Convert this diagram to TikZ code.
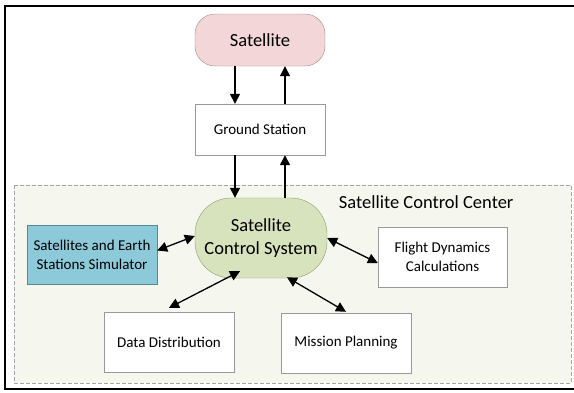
\documentclass[tikz,border=0pt]{standalone}
\usepackage{fontspec}
\setmainfont{Carlito}
\usepackage{tikz}
\usetikzlibrary{arrows.meta}

\definecolor{satpink}{RGB}{242,214,216}
\definecolor{satedge}{RGB}{160,140,142}
\definecolor{scsgreen}{RGB}{215,227,189}
\definecolor{scsedge}{RGB}{140,155,110}
\definecolor{simblue}{RGB}{140,202,218}
\definecolor{simedge}{RGB}{90,135,150}
\definecolor{centerbg}{RGB}{245,247,238}

\begin{document}
\begin{tikzpicture}[x=1pt, y=-1pt,
   whitebox/.style={draw=gray!80, fill=white, minimum width=130pt, minimum height=51pt, inner sep=2pt, align=center, font=\fontsize{15}{19}\selectfont},
   link/.style={line width=1.3pt, -{Triangle[length=10pt,width=10pt]}},
   dbllink/.style={line width=1.3pt, {Triangle[length=10pt,width=10pt]}-{Triangle[length=10pt,width=10pt]}}]
   \useasboundingbox (0,0) rectangle (574,392);
   % frame and control center area
   \draw[line width=2.8pt] (600,6) -- (5,6) -- (5,389) -- (600,389);
   \draw[color=gray!70, dash pattern=on 4pt off 2pt, fill=centerbg] (14,185) rectangle (571,383);
   \node[anchor=east, font=\fontsize{18.5}{22}\selectfont] (sccLabel) at (517,202) {Satellite Control Center};
   % nodes
   \node[draw=satedge, fill=satpink, rounded corners=20pt, minimum width=130pt, minimum height=52pt, font=\fontsize{18.5}{22}\selectfont] (sat) at (260,40) {Satellite};
   \node[whitebox] (gs) at (260,129.5) {Ground Station};
   \node[draw=scsedge, fill=scsgreen, rounded corners=36pt, minimum width=132pt, minimum height=80pt, align=center, font=\fontsize{18.5}{23}\selectfont] (scs) at (261,238) {Satellite\\Control System};
   \node[whitebox, draw=simedge, fill=simblue, minimum height=59pt] (sim) at (92,254.5) {Satellites and Earth\\Stations Simulator};
   \node[whitebox, minimum width=129pt, minimum height=60pt] (flight) at (442.5,257) {Flight Dynamics\\Calculations};
   \node[whitebox, minimum height=60pt] (data) at (169,342) {Data Distribution};
   \node[whitebox, minimum height=60pt] (mission) at (346,343) {Mission Planning};
   % links
   \draw[link] ([xshift=-25pt]sat.south) -- ([xshift=-25pt]gs.north);
   \draw[link] ([xshift=25pt]gs.north) -- ([xshift=25pt]sat.south);
   \draw[link] ([xshift=-25pt]gs.south) -- ([xshift=-26pt]scs.north);
   \draw[link] ([xshift=24pt]scs.north) -- ([xshift=25pt]gs.south);
   \draw[dbllink] ([yshift=4pt]sim.east) -- ([yshift=2pt]scs.west);
   \draw[dbllink] (scs.east) -- ([yshift=-6pt]flight.west);
   \draw[dbllink] ([xshift=-21pt,yshift=7pt]scs.south) -- ([yshift=4pt]data.north);
   \draw[dbllink] ([xshift=26pt,yshift=1pt]scs.south) -- ([yshift=1pt]mission.north);
\end{tikzpicture}
\end{document}
